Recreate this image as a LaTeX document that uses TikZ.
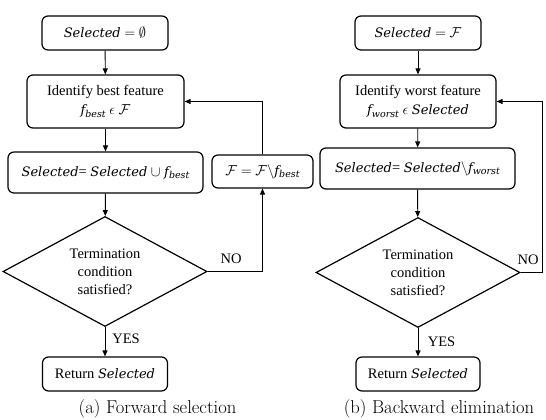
\documentclass[tikz,border=0pt]{standalone}
\usepackage{fontspec}
\usetikzlibrary{shapes.geometric,arrows.meta}
\newfontfamily\tnr{Liberation Serif}
\newfontfamily\cmb{DejaVu Serif}
\newcommand{\V}[1]{{\fontsize{13}{16}\cmb\itshape #1}}
\newcommand{\Vs}[1]{\raisebox{-0.35ex}{\fontsize{9.5}{10}\cmb\itshape #1}}
\newcommand{\FF}{$\mathcal{F}$}
\begin{document}
\begin{tikzpicture}[x=1pt,y=-1pt,
  box/.style={draw, rounded corners=6pt, line width=1.2pt, align=center, inner sep=1pt,
    font=\tnr\fontsize{14.5}{19}\selectfont},
  dec/.style={draw, diamond, line width=1.2pt, align=center, inner sep=0pt, aspect=1.85,
    font=\tnr\fontsize{14.5}{18}\selectfont},
  arr/.style={-{Triangle[length=6pt,width=5pt]}, line width=0.9pt},
  lab/.style={font=\tnr\fontsize{14.5}{18}\selectfont, inner sep=0pt},
  captxt/.style={font=\fontsize{18.6}{22}\selectfont, inner sep=0pt}]
\useasboundingbox (0,0) rectangle (546,420);

% ---- left panel ----
\node[box, minimum width=126pt, minimum height=34pt] (L1) at (105,33) {\V{Selected} $=$ $\emptyset$};
\node[box, minimum width=157pt, minimum height=53pt] (L2) at (105.5,101.5) {Identify best feature\\\V{f}\Vs{best} $\epsilon$ \FF};
\node[box, minimum width=195pt, minimum height=41pt] (L3) at (105.5,172.5) {\V{Selected}= \V{Selected} $\cup$ \V{f}\Vs{best}};
\node[box, minimum width=101pt, minimum height=33pt] (L4) at (262.5,171.5) {\FF\ $=$ \FF$\backslash$\V{f}\Vs{best}};
\node[dec, minimum width=204pt, minimum height=110pt] (LD) at (105,271.5) {Termination\\condition\\satisfied?};
\node[box, minimum width=125pt, minimum height=34pt] (L5) at (105,374) {Return \V{Selected}};
\node[captxt] (LC) at (157.5,409) {(a) Forward selection};

\draw[arr] (L1) -- (L2);
\draw[arr] (L2) -- (L3);
\draw[arr] (L3) -- (LD);
\draw[arr] (LD) -- (L5);
\draw[arr] (LD.east) -| (L4.south);
\draw[arr] (L4.north) |- (L2.east);
\node[lab] (LY) at (126,339) {YES};
\node[lab] (LN) at (231,259) {NO};

% ---- right panel ----
\node[box, minimum width=126pt, minimum height=34pt] (R1) at (418,33) {\V{Selected} $=$ \FF};
\node[box, minimum width=156pt, minimum height=53pt] (R2) at (418,101.5) {Identify worst feature\\\V{f}\Vs{worst} $\epsilon$ \V{Selected}};
\node[box, minimum width=195pt, minimum height=41pt] (R3) at (417.5,168.5) {\V{Selected}= \V{Selected}$\backslash$\V{f}\Vs{worst}};
\node[dec, minimum width=204pt, minimum height=110pt] (RD) at (418,272.5) {Termination\\condition\\satisfied?};
\node[box, minimum width=124pt, minimum height=34pt] (R5) at (418,374) {Return \V{Selected}};
\node[captxt] (RC) at (439,409) {(b) Backward elimination};
\coordinate (RK) at (542,272.5);

\draw[arr] (R1) -- (R2);
\draw[arr] (R2) -- (R3);
\draw[arr] (R3) -- (RD);
\draw[arr] (RD) -- (R5);
\draw[arr] (RD.east) -- (RK) |- (R2.east);
\node[lab] (RY) at (441.5,342) {YES};
\node[lab] (RN) at (528,260) {NO};
\end{tikzpicture}
\end{document}
